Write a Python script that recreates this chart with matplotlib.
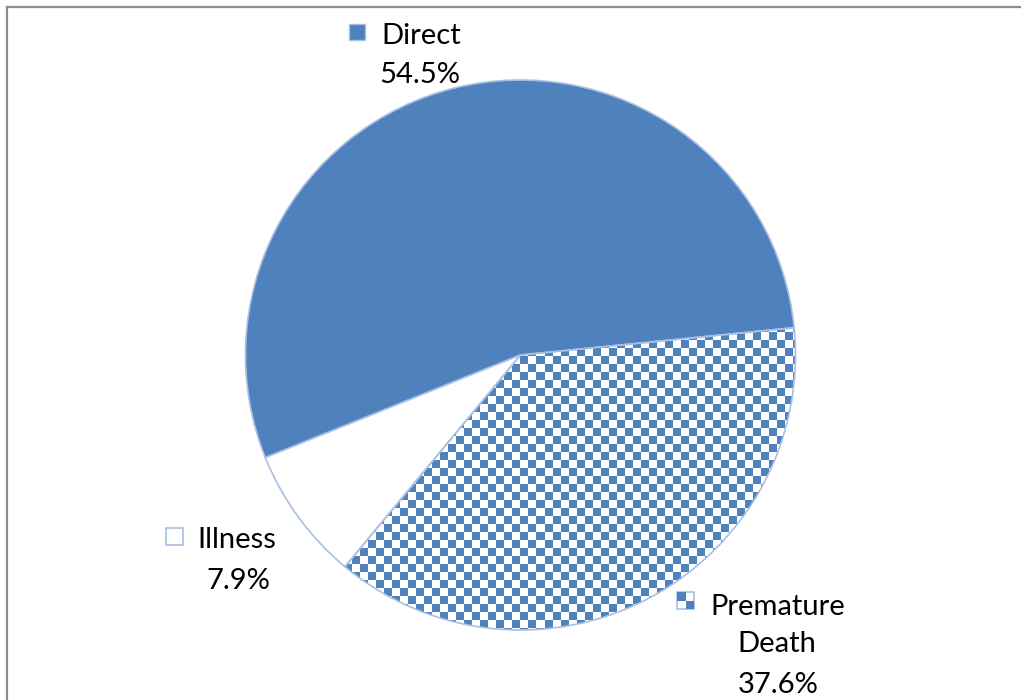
import matplotlib
matplotlib.use("Agg")
import matplotlib.pyplot as plt
from matplotlib.patches import Rectangle
import numpy as np

# chart data
labels = ["Direct", "Illness", "Premature Death"]
shares = [54.5, 7.9, 37.6]
pct_text = ["54.5%", "7.9%", "37.6%"]

W, H = 1021, 700
blue = "#4F81BD"
edge = "#A9BFE4"

plt.rcParams['font.family'] = ['Lato', 'DejaVu Sans']

fig = plt.figure(figsize=(W / 100, H / 100), dpi=100)
ax = fig.add_axes([0, 0, 1, 1])

# pie in pixel coordinates (y up)
cx, cy, r = 520.5, H - 355, 275
wedges, _ = ax.pie(shares, startangle=5.7, counterclock=True,
                   center=(cx, cy), radius=r,
                   colors=[blue, "white", "white"],
                   wedgeprops=dict(edgecolor=edge, linewidth=1.2))
ax.set_xlim(0, W)
ax.set_ylim(0, H)
ax.set_aspect('equal')
ax.axis('off')

# checker texture for the premature death slice
sq = 8
nx, ny = W // sq + 1, H // sq + 1
iy, ix = np.indices((ny, nx))
checker = ((ix + iy) % 2).astype(float)
cmap = matplotlib.colors.ListedColormap(["white", blue])
im = ax.imshow(checker, cmap=cmap, extent=(0, nx * sq, 0, ny * sq),
               origin='lower', interpolation='nearest', zorder=0.5)
im.set_clip_path(wedges[2])
wedges[2].set_zorder(1)
wedges[2].set_facecolor('none')


def px(x, y):
    return x / W, 1 - y / H


def marker(x0, y0, size, kind):
    fx, fy = px(x0, y0 + size)
    s_w, s_h = size / W, size / H
    if kind == "solid":
        fig.patches.append(Rectangle((fx, fy), s_w, s_h, transform=fig.transFigure,
                                     facecolor=blue, edgecolor=edge, linewidth=1))
    elif kind == "empty":
        fig.patches.append(Rectangle((fx, fy), s_w, s_h, transform=fig.transFigure,
                                     facecolor="white", edgecolor=edge, linewidth=1.2))
    else:
        fig.patches.append(Rectangle((fx, fy), s_w, s_h, transform=fig.transFigure,
                                     facecolor="white", edgecolor=edge, linewidth=1.2))
        fig.patches.append(Rectangle((fx, fy + s_h / 2), s_w / 2, s_h / 2,
                                     transform=fig.transFigure, facecolor=blue, linewidth=0))
        fig.patches.append(Rectangle((fx + s_w / 2, fy), s_w / 2, s_h / 2,
                                     transform=fig.transFigure, facecolor=blue, linewidth=0))


fs = 21
# Direct
marker(349, 24, 16, "solid")
fig.text(*px(381, 44), labels[0], fontsize=fs, ha='left', va='baseline')
fig.text(*px(420, 83), pct_text[0], fontsize=fs, ha='center', va='baseline')
# Illness
marker(166, 528, 17, "empty")
fig.text(*px(197, 548), labels[1], fontsize=fs, ha='left', va='baseline')
fig.text(*px(238, 589), pct_text[1], fontsize=fs, ha='center', va='baseline')
# Premature Death
marker(677, 592, 17, "checker")
fig.text(*px(710, 615), "Premature", fontsize=fs, ha='left', va='baseline')
fig.text(*px(777, 652), "Death", fontsize=fs, ha='center', va='baseline')
fig.text(*px(778, 693), pct_text[2], fontsize=fs, ha='center', va='baseline')

# outer frame (top and left visible)
fig.add_artist(plt.Line2D([7 / W, 1], [1 - 7 / H, 1 - 7 / H], transform=fig.transFigure,
                          color="#8C8C8C", linewidth=1.6))
fig.add_artist(plt.Line2D([7 / W, 7 / W], [0, 1 - 7 / H], transform=fig.transFigure,
                          color="#8C8C8C", linewidth=1.6))

fig.savefig("out.png", dpi=100)
